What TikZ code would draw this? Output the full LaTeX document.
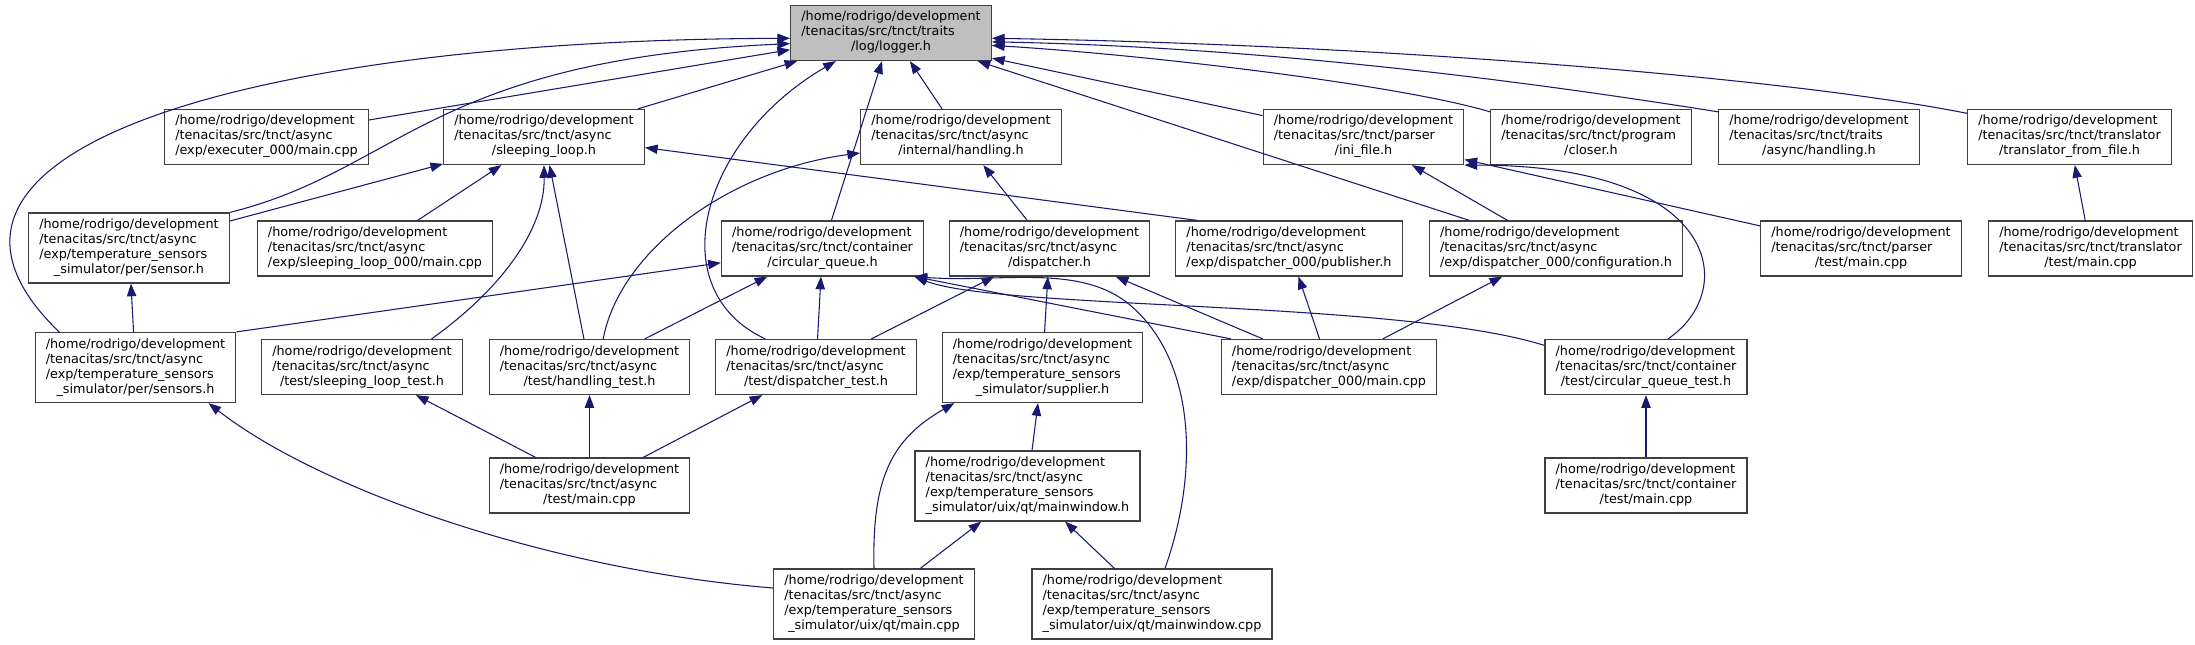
\documentclass[tikz,border=0pt]{standalone}
\usepackage{fontspec}
\setmainfont{DejaVu Sans}
\usetikzlibrary{arrows.meta}
\definecolor{midnightblue}{HTML}{191970}
\definecolor{hdrgrey}{HTML}{BFBFBF}
\newcommand{\incfile}[2]{\begin{tabular}{@{}l@{}}/home/rodrigo/development\\#1\\\multicolumn{1}{@{}c@{}}{#2}\end{tabular}}
\begin{document}
\begin{tikzpicture}[x=0.75pt,y=-0.75pt,
  file/.style={draw=black!75,line width=0.9pt,fill=white,inner xsep=8pt,inner ysep=3.75pt,
    font=\fontsize{9.6}{11.25}\selectfont},
  dep/.style={midnightblue,line width=0.8pt,-{Triangle[length=9.5pt,width=7pt]}}]
  \useasboundingbox (0,0) rectangle (2195,645);

  \node[file,fill=hdrgrey] (logger) at (891,33) {\incfile{/tenacitas/src/tnct/traits}{/log/logger.h}};

  \node[file] (execmain) at (266.5,137) {\incfile{/tenacitas/src/tnct/async}{/exp/executer\_000/main.cpp}};
  \node[file] (sleeploop) at (544,137) {\incfile{/tenacitas/src/tnct/async}{/sleeping\_loop.h}};
  \node[file] (ihandling) at (961,137) {\incfile{/tenacitas/src/tnct/async}{/internal/handling.h}};
  \node[file] (inifile) at (1363.5,137) {\incfile{/tenacitas/src/tnct/parser}{/ini\_file.h}};
  \node[file] (closer) at (1591,137) {\incfile{/tenacitas/src/tnct/program}{/closer.h}};
  \node[file] (thandling) at (1819,137) {\incfile{/tenacitas/src/tnct/traits}{/async/handling.h}};
  \node[file] (tfromfile) at (2069.5,137) {\incfile{/tenacitas/src/tnct/translator}{/translator\_from\_file.h}};

  \node[file] (sensor) at (129,248) {\incfile{/tenacitas/src/tnct/async\\/exp/temperature\_sensors}{\_simulator/per/sensor.h}};
  \node[file] (slmain) at (375,248.5) {\incfile{/tenacitas/src/tnct/async}{/exp/sleeping\_loop\_000/main.cpp}};
  \node[file] (cqueue) at (822.5,248.5) {\incfile{/tenacitas/src/tnct/container}{/circular\_queue.h}};
  \node[file] (dispatcher) at (1049.5,248.5) {\incfile{/tenacitas/src/tnct/async}{/dispatcher.h}};
  \node[file] (publisher) at (1289,248.5) {\incfile{/tenacitas/src/tnct/async}{/exp/dispatcher\_000/publisher.h}};
  \node[file] (config) at (1556,248.5) {\incfile{/tenacitas/src/tnct/async}{/exp/dispatcher\_000/configuration.h}};
  \node[file] (ptestmain) at (1861,248.5) {\incfile{/tenacitas/src/tnct/parser}{/test/main.cpp}};
  \node[file] (ttestmain) at (2090.5,248.5) {\incfile{/tenacitas/src/tnct/translator}{/test/main.cpp}};

  \node[file] (sensors) at (135.5,367.5) {\incfile{/tenacitas/src/tnct/async\\/exp/temperature\_sensors}{\_simulator/per/sensors.h}};
  \node[file] (sltest) at (362,367) {\incfile{/tenacitas/src/tnct/async}{/test/sleeping\_loop\_test.h}};
  \node[file] (htest) at (589.5,367) {\incfile{/tenacitas/src/tnct/async}{/test/handling\_test.h}};
  \node[file] (dtest) at (816,367) {\incfile{/tenacitas/src/tnct/async}{/test/dispatcher\_test.h}};
  \node[file] (supplier) at (1042.5,367.5) {\incfile{/tenacitas/src/tnct/async\\/exp/temperature\_sensors}{\_simulator/supplier.h}};
  \node[file] (dmain) at (1329,367) {\incfile{/tenacitas/src/tnct/async}{/exp/dispatcher\_000/main.cpp}};
  \node[file] (cqtest) at (1646,367) {\incfile{/tenacitas/src/tnct/container}{/test/circular\_queue\_test.h}};

  \node[file] (atestmain) at (589.5,485.5) {\incfile{/tenacitas/src/tnct/async}{/test/main.cpp}};
  \node[file] (mwindowh) at (1027.5,486) {\incfile{/tenacitas/src/tnct/async\\/exp/temperature\_sensors}{\_simulator/uix/qt/mainwindow.h}};
  \node[file] (ctestmain) at (1646,485.5) {\incfile{/tenacitas/src/tnct/container}{/test/main.cpp}};

  \node[file] (qtmain) at (874,604) {\incfile{/tenacitas/src/tnct/async\\/exp/temperature\_sensors}{\_simulator/uix/qt/main.cpp}};
  \node[file] (mwindowcpp) at (1152,604) {\incfile{/tenacitas/src/tnct/async\\/exp/temperature\_sensors}{\_simulator/uix/qt/mainwindow.cpp}};

  \foreach \a/\b in {execmain/logger,sleeploop/logger,ihandling/logger,cqueue/logger,config/logger,
      sensor/sleeploop,slmain/sleeploop,htest/sleeploop,dispatcher/ihandling,sensors/sensor,
      htest/cqueue,dtest/cqueue,dtest/dispatcher,supplier/dispatcher,dmain/dispatcher,
      dmain/publisher,dmain/config,config/inifile,ptestmain/inifile,ttestmain/tfromfile,
      atestmain/sltest,atestmain/htest,atestmain/dtest,mwindowh/supplier,qtmain/mwindowh,
      mwindowcpp/mwindowh,ctestmain/cqtest}
    \draw[dep] (\a) -- (\b);

  \draw[dep] (sensors.155) .. controls (-130,150) and (250,40) .. (logger.183);
  \draw[dep] (sensor.north east) .. controls (400,170) and (430,60) .. (logger.186);
  \draw[dep] (dtest.151) .. controls (660,290) and (700,140) .. (logger.207);
  \draw[dep] (inifile.168) -- (logger.-14);
  \draw[dep] (closer.166) .. controls (1400,85) and (1150,55) .. (logger.-7);
  \draw[dep] (thandling.166) .. controls (1580,90) and (1300,48) .. (logger.-5);
  \draw[dep] (tfromfile.167) .. controls (1800,80) and (1400,45) .. (logger.-3);
  \draw[dep] (htest.64) .. controls (620,250) and (730,170) .. (ihandling.189);
  \draw[dep] (sltest.22) .. controls (500,290) and (545,230) .. (sleeploop.south);
  \draw[dep] (publisher.163) -- (sleeploop.-6);
  \draw[dep] (sensors.north east) -- (cqueue.188);
  \draw[dep] (dmain.164) -- (cqueue.-17);
  \draw[dep] (cqtest.168) .. controls (1400,300) and (1000,310) .. (cqueue.-17);
  \draw[dep] (mwindowcpp.70) .. controls (1200,470) and (1195,360) .. (1130,305)
    .. controls (1080,263) and (1000,283) .. (cqueue.-17);
  \draw[dep] (cqtest.52) .. controls (1740,290) and (1720,165) .. (inifile.south east);
  \draw[dep] (qtmain.north) .. controls (872,480) and (890,440) .. (supplier.202);
  \draw[dep] (qtmain.171) .. controls (550,570) and (320,490) .. (sensors.-26);
\end{tikzpicture}
\end{document}
